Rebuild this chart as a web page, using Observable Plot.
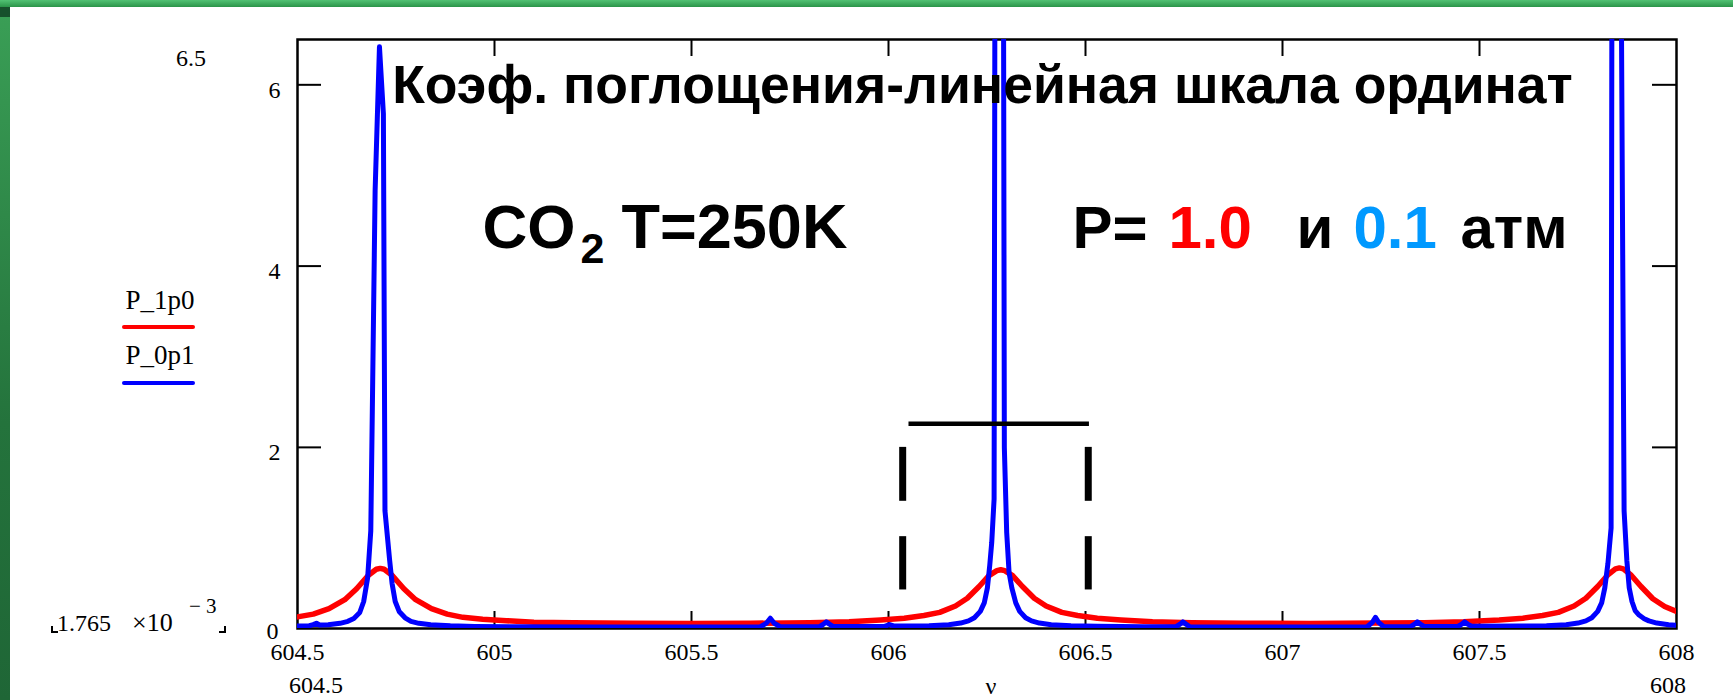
<!DOCTYPE html>
<html>
<head>
<meta charset="utf-8">
<script src="https://cdn.jsdelivr.net/npm/d3@7"></script>
<script src="https://cdn.jsdelivr.net/npm/@observablehq/plot@0.6"></script>
<style>
  html, body { margin: 0; padding: 0; background: #fff; }
  #wrap { position: relative; width: 1733px; height: 700px; overflow: hidden; background: #fff; }
  #wrap svg { position: absolute; left: 0; top: 0; }
  .lbl { position: absolute; font-family: "Liberation Serif", "Times New Roman", serif; font-size: 24px; color: #000; line-height: 1; white-space: nowrap; transform: translate(-50%, -50%); }
  .lft { position: absolute; font-family: "Liberation Serif", "Times New Roman", serif; font-size: 24px; color: #000; line-height: 1; white-space: nowrap; transform: translate(0, -50%); }
  .sw { position: absolute; height: 4px; border-radius: 2px; }
  .corner { position: absolute; width: 5px; height: 5px; border-bottom: 2px solid #000; }
  .gtop { position: absolute; left: 0; top: 0; width: 1733px; height: 7px; background: linear-gradient(#52c274, #2b9449); }
  .gleft { position: absolute; left: 0; top: 7px; width: 10px; height: 693px; background: linear-gradient(#3a9f56, #24733c 60%, #1f6636); }
  .gcorner { position: absolute; left: 0; top: 7px; width: 10px; height: 10px; background: #17502c; }
</style>
</head>
<body>
<div id="wrap"></div>
<script>
// ---- data ----
const xTicks = [604.5, 605, 605.5, 606, 606.5, 607, 607.5, 608];
const xInnerTicks = [605, 605.5, 606, 606.5, 607, 607.5];
const yTickLabels = [2, 4, 6];
const yZeroLabel = [0];
const yInnerTicks = [2, 4, 6];

// P = 1.0 atm (red)
const nuRed = [604.50,604.54,604.58,604.62,604.65,604.68,604.70,604.71,604.72,604.74,604.77,604.80,604.84,604.88,604.92,604.97,605.03,605.10,605.20,605.35,605.50,605.65,605.80,605.90,605.98,606.04,606.09,606.13,606.17,606.20,606.23,606.255,606.275,606.285,606.295,606.315,606.34,606.37,606.40,606.44,606.48,606.53,606.59,606.67,606.77,606.90,607.07,607.24,607.36,607.46,607.55,607.61,607.66,607.70,607.74,607.77,607.80,607.825,607.845,607.855,607.865,607.885,607.91,607.94,607.97,608.00];
const kRed = [0.13,0.16,0.22,0.32,0.44,0.59,0.655,0.665,0.655,0.59,0.44,0.32,0.22,0.16,0.125,0.105,0.088,0.072,0.065,0.06,0.058,0.06,0.065,0.075,0.095,0.115,0.145,0.18,0.25,0.335,0.465,0.585,0.64,0.65,0.64,0.585,0.465,0.335,0.25,0.18,0.145,0.115,0.095,0.075,0.065,0.06,0.058,0.062,0.065,0.075,0.095,0.115,0.145,0.18,0.25,0.335,0.465,0.59,0.66,0.67,0.66,0.59,0.465,0.33,0.245,0.19];

// P = 0.1 atm (blue) : [nu, k]
const bluePoints = [
  [604.500,0.030],[604.530,0.032],[604.540,0.045],[604.548,0.060],[604.556,0.040],[604.578,0.042],
  [604.608,0.059],[604.628,0.081],[604.643,0.113],[604.658,0.178],[604.668,0.30],[604.678,0.56],
  [604.686,1.08],[604.697,4.83],[604.708,6.42],[604.718,5.68],[604.722,1.30],[604.734,0.75],
  [604.740,0.50],[604.748,0.30],[604.758,0.19],[604.773,0.12],[604.788,0.081],[604.808,0.059],
  [604.838,0.042],[604.888,0.031],[604.950,0.025],[605.050,0.021],[605.250,0.019],[605.450,0.019],
  [605.675,0.021],[605.690,0.060],[605.700,0.115],[605.710,0.060],[605.725,0.022],
  [605.825,0.022],[605.835,0.050],[605.842,0.075],[605.850,0.050],[605.860,0.023],
  [605.990,0.026],[606.003,0.045],[606.015,0.028],
  [606.103,0.032],[606.153,0.044],[606.183,0.062],[606.203,0.086],[606.218,0.121],[606.233,0.191],
  [606.243,0.284],[606.251,0.45],[606.257,0.70],[606.262,0.95],[606.268,1.43],[606.270,6.9],
  [606.281,7.2],[606.292,6.9],[606.294,2.0],[606.300,1.06],[606.306,0.62],[606.313,0.45],
  [606.323,0.284],[606.333,0.191],[606.348,0.121],[606.363,0.086],
  [606.383,0.062],[606.413,0.044],[606.463,0.032],[606.530,0.026],[606.650,0.021],
  [606.730,0.022],[606.740,0.050],[606.747,0.075],[606.755,0.050],[606.765,0.021],
  [606.950,0.019],[607.100,0.019],
  [607.215,0.021],[607.228,0.070],[607.236,0.125],[607.244,0.070],[607.257,0.022],
  [607.325,0.022],[607.335,0.050],[607.342,0.075],[607.350,0.050],[607.360,0.023],
  [607.445,0.024],[607.455,0.050],[607.462,0.075],[607.470,0.050],[607.480,0.026],
  [607.600,0.028],[607.670,0.032],[607.720,0.044],[607.750,0.062],[607.770,0.086],[607.785,0.121],
  [607.800,0.191],[607.810,0.284],[607.818,0.45],[607.826,0.72],[607.834,1.11],[607.836,6.9],
  [607.848,7.2],[607.860,6.9],[607.867,1.30],[607.874,0.75],[607.880,0.45],[607.887,0.30],
  [607.895,0.20],[607.905,0.15],[607.918,0.11],[607.930,0.086],[607.950,0.062],[607.980,0.044],
  [608.000,0.038]
];

// annotation bracket (data units)
const bracketTop = [{x1: 606.052, x2: 606.51, y: 2.26}];
const bracketDashes = [
  {x: 606.036, y1: 2.0, y2: 1.405}, {x: 606.036, y1: 1.015, y2: 0.427},
  {x: 606.507, y1: 2.0, y2: 1.405}, {x: 606.507, y1: 1.015, y2: 0.427}
];

const titleText = "Коэф. поглощения-линейная шкала ординат";
const seriesNames = ["P_1p0", "P_0p1"];
const yMin = 0.001765, yMax = 6.5;

// ---- build ----
const redData = nuRed.map((v, i) => ({nu: v, k: kRed[i]}));
const blueData = bluePoints.map(([nu, k]) => ({nu, k}));

const W = 1733, H = 700, mL = 297, mT = 39, mR = 57, mB = 72;
const fW = W - mL - mR, fH = H - mT - mB;

const big = {fontFamily: "Liberation Sans, Arial, sans-serif", fontWeight: "bold", fill: "#000", frameAnchor: "top-left", textAnchor: "start", lineAnchor: "bottom"};

const chart = Plot.plot({
  width: W, height: H,
  marginLeft: mL, marginTop: mT, marginRight: mR, marginBottom: mB,
  style: {fontFamily: "Liberation Serif, Times New Roman, serif", fontSize: "24px", background: "transparent", overflow: "visible"},
  x: {domain: [604.5, 608]},
  y: {domain: [yMin, yMax]},
  marks: [
    Plot.axisX({ticks: xTicks, tickSize: 0, tickPadding: 14, tickFormat: d => String(d), fontSize: 24}),
    Plot.axisY({ticks: yTickLabels, tickSize: 0, tickPadding: 17, dy: 5, tickFormat: d => String(d), fontSize: 24}),
    Plot.axisY({ticks: yZeroLabel, tickSize: 0, tickPadding: 19, dy: 3, tickFormat: d => String(d), fontSize: 24}),
    Plot.tickY(yInnerTicks, {y: d => d, insetRight: fW - 24, stroke: "#000", strokeWidth: 2}),
    Plot.tickY(yInnerTicks, {y: d => d, insetLeft: fW - 24, stroke: "#000", strokeWidth: 2}),
    Plot.tickX(xInnerTicks, {x: d => d, insetBottom: fH - 17, stroke: "#000", strokeWidth: 2}),
    Plot.tickX(xInnerTicks, {x: d => d, insetTop: fH - 17, stroke: "#000", strokeWidth: 2}),
    Plot.frame({stroke: "#000", strokeWidth: 2.5}),
    Plot.line(redData, {x: "nu", y: "k", stroke: "#ff0000", strokeWidth: 5.5, clip: true}),
    Plot.line(blueData, {x: "nu", y: "k", stroke: "#0000ff", strokeWidth: 5, clip: true}),
    Plot.ruleY(bracketTop, {x1: "x1", x2: "x2", y: "y", stroke: "#000", strokeWidth: 4.5}),
    Plot.ruleX(bracketDashes, {x: "x", y1: "y1", y2: "y2", stroke: "#000", strokeWidth: 7, strokeLinecap: "butt"}),
    Plot.text([titleText], {...big, text: d => d, textAnchor: "middle", dx: 685, dy: 63, fontSize: 53.5}),
    Plot.text(["CO"], {...big, text: d => d, dx: 185, dy: 208, fontSize: 62}),
    Plot.text(["2"], {...big, text: d => d, dx: 283, dy: 223, fontSize: 43}),
    Plot.text(["T=250K"], {...big, text: d => d, dx: 324, dy: 208, fontSize: 63}),
    Plot.text(["P="], {...big, text: d => d, dx: 775, dy: 208, fontSize: 60}),
    Plot.text(["1.0"], {...big, text: d => d, dx: 871, dy: 208, fontSize: 60, fill: "#ff0000"}),
    Plot.text(["и"], {...big, text: d => d, dx: 999, dy: 208, fontSize: 60}),
    Plot.text(["0.1"], {...big, text: d => d, dx: 1056, dy: 208, fontSize: 60, fill: "#0099ff"}),
    Plot.text(["атм"], {...big, text: d => d, dx: 1163, dy: 208, fontSize: 60})
  ]
});

const wrap = document.getElementById("wrap");
wrap.appendChild(chart);

function addDiv(cls, text, left, top, extra) {
  const d = document.createElement("div");
  d.className = cls;
  if (text != null) d.textContent = text;
  d.style.left = left + "px";
  d.style.top = top + "px";
  if (extra) Object.assign(d.style, extra);
  wrap.appendChild(d);
  return d;
}

// green slide border
addDiv("gtop", null, 0, 0);
addDiv("gleft", null, 0, 7);
addDiv("gcorner", null, 0, 7);

// Mathcad-style extra labels
addDiv("lbl", String(yMax), 191, 58);
addDiv("lft", "1.765", 57, 623);
addDiv("lft", "×10", 132, 623, {fontSize: "26px"});
addDiv("lft", "− 3", 189, 606, {fontSize: "21px"});
addDiv("corner", null, 51, 626, {borderLeft: "2px solid #000"});
addDiv("corner", null, 219, 626, {borderRight: "2px solid #000"});
addDiv("lbl", String(xTicks[0]), 316, 685);
addDiv("lbl", String(xTicks[xTicks.length - 1]), 1668, 685);
addDiv("lbl", "ν", 991, 686);

// legend
addDiv("lbl", seriesNames[0], 160, 300, {fontSize: "27px"});
addDiv("sw", null, 122, 325, {width: "73px", background: "#ff0000"});
addDiv("lbl", seriesNames[1], 160, 355, {fontSize: "27px"});
addDiv("sw", null, 122, 381, {width: "73px", background: "#0000ff"});
</script>
</body>
</html>
